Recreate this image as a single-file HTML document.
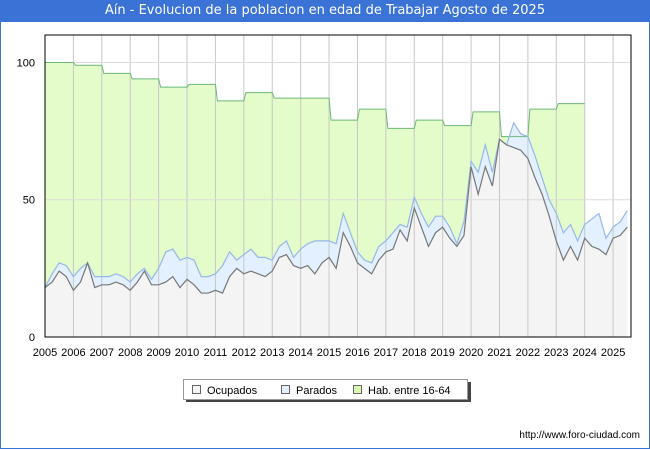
<!DOCTYPE html>
<html><head><meta charset="utf-8">
<style>
body{margin:0;width:650px;height:450px;background:#fff;font-family:"Liberation Sans","DejaVu Sans",sans-serif;position:relative;overflow:hidden}
#title{position:absolute;left:0;top:0;width:650px;height:22px;background:#3a73d5;color:#fff;font-size:13px;line-height:22px;text-align:center;font-family:"DejaVu Sans",sans-serif}
#frame{position:absolute;left:0;top:22px;width:648px;height:426px;border:1px solid #3a73d5;border-top:none}
svg{position:absolute;left:0;top:0}
</style></head><body>
<div id="title">Aín - Evolucion de la poblacion en edad de Trabajar Agosto de 2025</div>
<div id="frame"></div>
<svg id="chart" width="650" height="450"></svg>
<script>
const years=[2005,2006,2007,2008,2009,2010,2011,2012,2013,2014,2015,2016,2017,2018,2019,2020,2021,2022,2023,2024,2025];
const habYears=[2005,2006,2007,2008,2009,2010,2011,2012,2013,2014,2015,2016,2017,2018,2019,2020,2021,2022,2023];
const habValues=[100,99,96,94,91,92,86,89,87,87,79,83,76,79,77,82,73,83,85];
const ocupados=[18,20,24,22,17,20,27,18,19,19,20,19,17,20,24,19,19,20,22,18,21,19,16,16,17,16,22,25,23,24,23,22,24,29,30,26,25,26,23,27,29,25,38,33,27,25,23,28,31,32,39,35,47,40,33,38,40,36,33,37,62,52,62,55,72,70,69,68,65,58,52,44,35,28,33,28,36,33,32,30,36,37,40];
const totalActivos=[18,23,27,26,22,25,27,22,22,22,23,22,20,23,25,21,25,31,32,28,29,28,22,22,23,26,31,28,30,32,29,29,28,33,35,29,32,34,35,35,35,34,45,38,31,28,27,33,35,38,41,40,51,45,40,44,44,40,34,42,64,60,70,60,72,70,78,74,73,66,58,50,45,38,41,35,41,43,45,36,40,42,46];
const parados=totalActivos.map((t,i)=>t-ocupados[i]);
const yTicks=[0,50,100];
const X0=45,X1=631,Y0=35,Y1=337;
const xs=y=>X0+(y-2005)*(X1-X0)/20.63;
const ys=v=>Y1-v*(Y1-Y0)/110;
const NS="http://www.w3.org/2000/svg";
const svg=document.getElementById('chart');
function mk(t,a){const e=document.createElementNS(NS,t);for(const k in a)e.setAttribute(k,a[k]);svg.appendChild(e);return e;}
// plot bg
let bg=mk('rect',{x:X0,y:Y0,width:X1-X0,height:Y1-Y0,fill:'#fff'});


const tAt=i=>2005+i/4;
// hab area
let hp=`M${xs(2005)},${ys(0)}`;
habYears.forEach((y,i)=>{hp+=` L${xs(y)+(i?2:0)},${ys(habValues[i])} L${xs(y+1)},${ys(habValues[i])}`;});
let hl=hp.replace(/^M[^L]*L/,'M');
hp+=` L${xs(2024)},${ys(0)} Z`;
let ha=mk('path',{d:hp,fill:'#e3fcc9'});


// total (parados) area
let tp=`M${xs(2005)},${ys(0)}`;totalActivos.forEach((v,i)=>tp+=` L${xs(tAt(i))},${ys(v)}`);
let tline=tp.replace(/^M[^L]*L/,'M');
tp+=` L${xs(tAt(totalActivos.length-1))},${ys(0)} Z`;
let pa=mk('path',{d:tp,fill:'#e2f0ff'});


let op=`M${xs(2005)},${ys(0)}`;ocupados.forEach((v,i)=>op+=` L${xs(tAt(i))},${ys(v)}`);
let oline=op.replace(/^M[^L]*L/,'M');
op+=` L${xs(tAt(ocupados.length-1))},${ys(0)} Z`;
let oa=mk('path',{d:op,fill:'#f4f4f4'});


// grid
years.forEach(y=>{if(y>2005){let g=mk('line',{x1:xs(y),x2:xs(y),y1:Y0,y2:Y1,stroke:'#c8c8c8','stroke-width':1});

}});
yTicks.forEach(v=>{if(v>0){let g=mk('line',{x1:X0,x2:X1,y1:ys(v),y2:ys(v),stroke:'#dcdcdc','stroke-width':1});

}
let t=mk('text',{x:X0-10,y:ys(v)+4,'text-anchor':'end','font-size':11,fill:'#000'});t.textContent=v;

});
let l1=mk('path',{d:hl,fill:'none',stroke:'#6db87a','stroke-width':1});


let l2=mk('path',{d:tline,fill:'none',stroke:'#96b8ea','stroke-width':1.2});


let l3=mk('path',{d:oline,fill:'none',stroke:'#777','stroke-width':1.2});


let bd=mk('rect',{x:X0,y:Y0,width:X1-X0,height:Y1-Y0,fill:'none',stroke:'#000','stroke-width':1});


years.forEach(y=>{let t=mk('text',{x:xs(y),y:356,'text-anchor':'middle','font-size':11,fill:'#000'});t.textContent=y;

});
// legend
let ls=mk('rect',{x:186,y:382,width:285,height:20,fill:'#444'});


let lb=mk('rect',{x:183.5,y:379.5,width:284,height:20,fill:'#fff',stroke:'#999'});


[['Ocupados','#f4f4f4',193],['Parados','#e2f0ff',282],['Hab. entre 16-64','#d8f8b0',354]].forEach(([n,c,x])=>{
let r=mk('rect',{x:x-0.5,y:385.5,width:8,height:8,fill:c,stroke:'#666'});


let t=mk('text',{x:x+14,y:394,'font-size':11,fill:'#000'});t.textContent=n;

});
let u=mk('text',{x:640,y:438,'text-anchor':'end','font-size':10,fill:'#000'});u.textContent='http://www.foro-ciudad.com';


</script>
</body></html>
